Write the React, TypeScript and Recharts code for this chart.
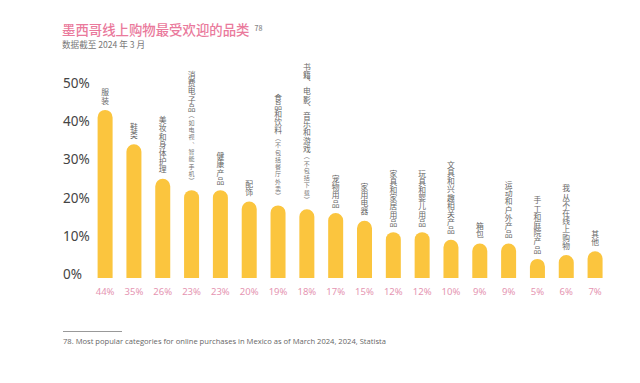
import React from 'react';
import { BarChart, Bar, XAxis, YAxis, LabelList } from 'recharts';

const categories = [
    '服装', '鞋类', '美妆和身体护理', '消费电子品', '健康产品', '配饰', '食品和饮料',
    '书籍、电影、音乐和游戏', '宠物用品', '家用电器', '家具和家居用品', '玩具和婴儿用品',
    '文具和兴趣相关产品', '箱包', '运动和户外产品', '手工和庭院产品', '我从不在线上购物', '其他',
];
const notes = [
    '', '', '', '（如电视、智能手机）', '', '', '（不包括餐厅外卖）', '（不包括下载）',
    '', '', '', '', '', '', '', '', '', '',
];
const shares = [44, 35, 26, 23, 23, 20, 19, 18, 17, 15, 12, 12, 10, 9, 9, 5, 6, 7];
const yTicks = [0, 10, 20, 30, 40, 50];

const chartData = categories.map((name, i) => ({ name, share: shares[i], note: notes[i] }));

const CJK = '"Noto Sans CJK SC", "Noto Sans", sans-serif';
const BAR = '#FBC53E';
const PINK = '#EA7A9C';

// vertical label above each bar, one text per category
const VerticalLabel = (props: any) => {
    const { x, y, width, index } = props;
    const note = notes[index];
    return (
        <text x={x + width / 2} y={y - 5} textAnchor="end" fontFamily={CJK} fill="#666"
            style={{ writingMode: 'vertical-rl' } as any}>
            <tspan fontSize={7.8} letterSpacing={0.4}>{categories[index]}</tspan>
            {note && <tspan fontSize={6} letterSpacing={1.3} fill="#777">{note}</tspan>}
        </text>
    );
};

const PctLabel = (props: any) => {
    const { x, y, width, height, value } = props;
    return (
        <text x={x + width / 2} y={y + height + 13} textAnchor="middle" dominantBaseline="central"
            fontSize={9.5} fill="#E595B2" fontFamily='"Noto Sans", sans-serif'>
            {value}%
        </text>
    );
};

const YTick = (props: any) => {
    const { y, payload } = props;
    return (
        <text x={63} y={y - 4} textAnchor="start" dominantBaseline="central" fontSize={13.5}
            fill="#444" fontFamily='"Noto Sans", sans-serif'>
            {payload.value}%
        </text>
    );
};

const App: React.FC = () => {
    return (
        <div style={{ position: 'relative', width: 640, height: 383, background: '#fff', fontFamily: CJK }}>
            <style>{'body{margin:0}'}</style>
            <div style={{ position: 'absolute', left: 62, top: 20, fontSize: 13.4, fontWeight: 500, color: PINK, whiteSpace: 'nowrap', lineHeight: '16px' }}>
                墨西哥线上购物最受欢迎的品类
                <span style={{ fontSize: 7, color: '#888', marginLeft: 5, verticalAlign: 4 }}>78</span>
            </div>
            <div style={{ position: 'absolute', left: 62, top: 38, fontSize: 8.6, color: '#777', whiteSpace: 'nowrap', lineHeight: '12px' }}>
                数据截至 2024 年 3 月
            </div>
            <BarChart width={640} height={383} data={chartData} margin={{ top: 87, right: 30.6, bottom: 105, left: 0 }}>
                <XAxis dataKey="name" tick={false} tickLine={false} axisLine={{ stroke: '#e6e6e6' }} height={0} />
                <YAxis domain={[0, 50]} ticks={yTicks} tick={<YTick />} axisLine={false} tickLine={false} width={90.6} />
                <Bar dataKey="share" fill={BAR} barSize={15} radius={[7.5, 7.5, 0, 0]} isAnimationActive={false}>
                    <LabelList dataKey="share" content={<VerticalLabel />} />
                    <LabelList dataKey="share" content={<PctLabel />} />
                </Bar>
            </BarChart>
            <div style={{ position: 'absolute', left: 63, top: 331, width: 59, height: 1, background: '#999' }} />
            <div style={{ position: 'absolute', left: 63, top: 336, fontSize: 7.6, color: '#666', whiteSpace: 'nowrap', lineHeight: '11px', fontFamily: '"Open Sans", sans-serif' }}>
                78. Most popular categories for online purchases in Mexico as of March 2024, 2024, Statista
            </div>
        </div>
    );
};

export default App;
